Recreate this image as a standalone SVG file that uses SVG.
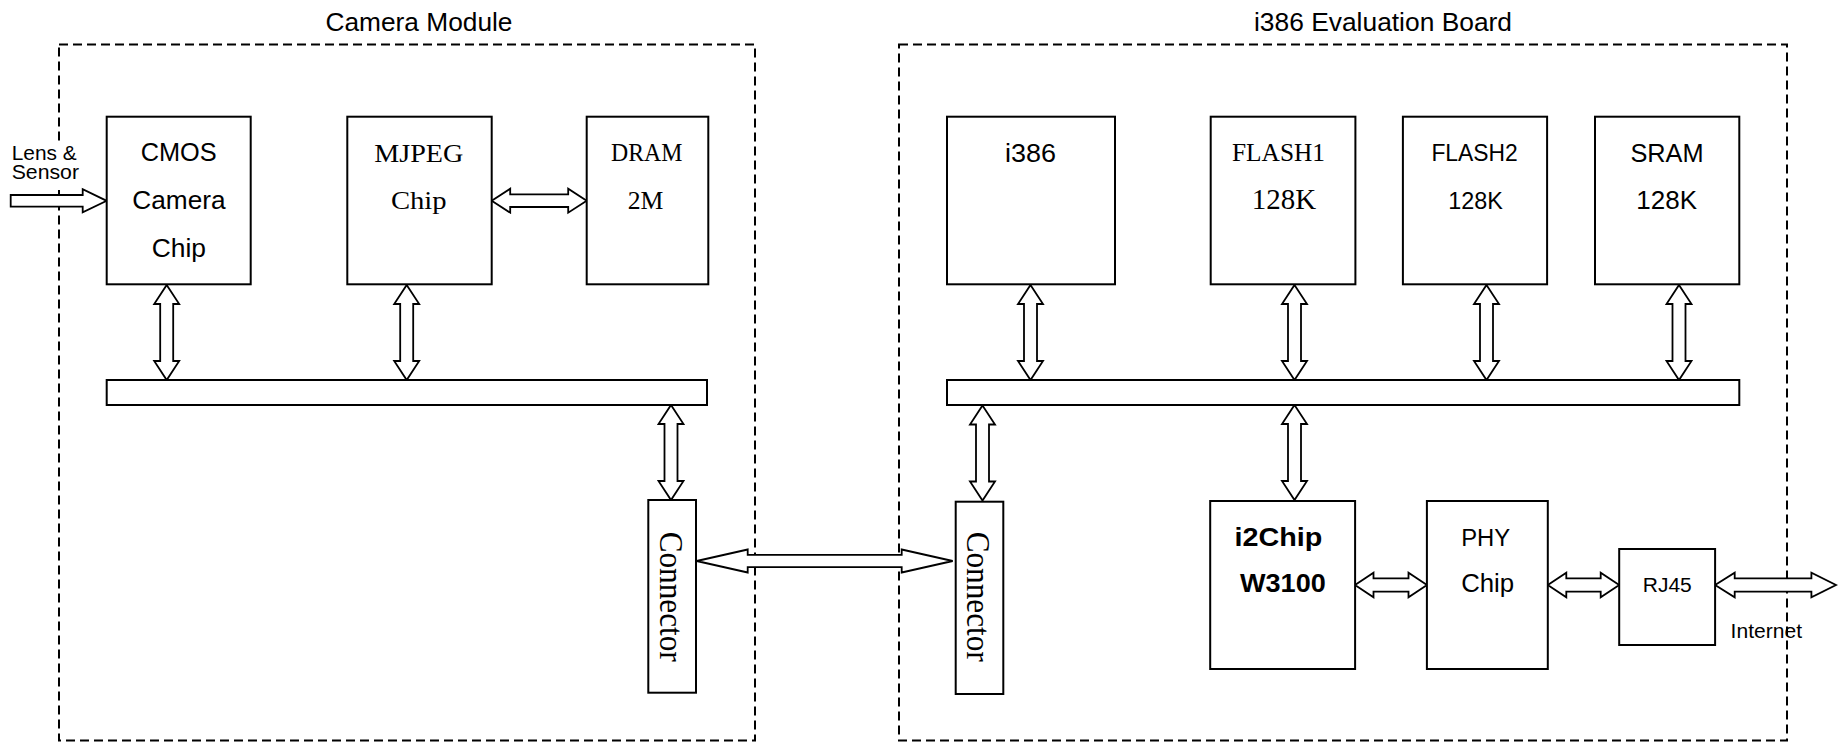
<svg xmlns="http://www.w3.org/2000/svg" xmlns:xlink="http://www.w3.org/1999/xlink" width="1842" height="743" viewBox="0 0 1842 743">
  <style>
    .frame { fill: none; stroke: #000; stroke-width: 2; stroke-dasharray: 9 5; }
    .box { fill: #fff; stroke: #000; stroke-width: 2; }
    .arrow { fill: #fff; stroke: #000; stroke-width: 1.8; stroke-linejoin: miter; }
    .sans { font-family: "Liberation Sans", Arial, sans-serif; fill: #000; }
    .serif { font-family: "Liberation Serif", "Times New Roman", serif; fill: #000; }
    .bold { font-weight: bold; }
    .mid { text-anchor: middle; }
  </style>
  <defs>
    <!-- standard vertical double-headed bus arrow, 95 px long -->
    <path id="vArrow95" d="M0,0 L12.5,19 L6.5,19 L6.5,76 L12.5,76 L0,95 L-12.5,76 L-6.5,76 L-6.5,19 L-12.5,19 Z"/>
  </defs>
  <rect width="1842" height="743" fill="#fff"/>

  <!-- module outlines -->
  <g id="camera-module">
    <rect class="frame" x="59" y="44.5" width="696" height="696"/>
    <text class="sans mid" x="419" y="31" font-size="26" textLength="187" lengthAdjust="spacingAndGlyphs">Camera Module</text>
  </g>
  <g id="eval-board">
    <rect class="frame" x="899" y="44.5" width="888" height="696"/>
    <text class="sans mid" x="1383" y="31" font-size="26" textLength="258" lengthAdjust="spacingAndGlyphs">i386 Evaluation Board</text>
  </g>

  <!-- input label -->
  <g id="lens-sensor">
    <rect x="10" y="141" width="72" height="49" fill="#fff"/>
    <text class="sans" x="11.7" y="159.5" font-size="21" textLength="65" lengthAdjust="spacingAndGlyphs">Lens &amp;</text>
    <text class="sans" x="11.7" y="179" font-size="21" textLength="67.3" lengthAdjust="spacingAndGlyphs">Sensor</text>
  </g>

  <!-- connectors -->
  <g id="connectors">
    <!-- lens input -->
    <path class="arrow" d="M10.7,195 L82.7,195 L82.7,189.3 L106.7,200.85 L82.7,212.3 L82.7,206.7 L10.7,206.7 Z"/>
    <!-- MJPEG <-> DRAM -->
    <path class="arrow" d="M491.7,200.7 L510.2,188.7 L510.2,194.4 L568.2,194.4 L568.2,188.7 L586.7,200.7 L568.2,212.7 L568.2,207 L510.2,207 L510.2,212.7 Z"/>
    <!-- camera bus -->
    <use class="arrow" xlink:href="#vArrow95" x="166.7" y="285"/>
    <use class="arrow" xlink:href="#vArrow95" x="406.7" y="285"/>
    <use class="arrow" xlink:href="#vArrow95" x="671" y="405"/>
    <!-- board bus -->
    <use class="arrow" xlink:href="#vArrow95" x="1030.5" y="285"/>
    <use class="arrow" xlink:href="#vArrow95" x="1294.5" y="285"/>
    <use class="arrow" xlink:href="#vArrow95" x="1486.5" y="285"/>
    <use class="arrow" xlink:href="#vArrow95" x="1679" y="285"/>
    <use class="arrow" xlink:href="#vArrow95" x="982.5" y="405.5"/>
    <use class="arrow" xlink:href="#vArrow95" x="1294.5" y="405"/>
    <!-- connector <-> connector -->
    <path class="arrow" d="M696.7,561 L747.7,549.5 L747.7,554.8 L901.7,554.8 L901.7,549.5 L952.7,561 L901.7,572.5 L901.7,567.2 L747.7,567.2 L747.7,572.5 Z"/>
    <!-- i2Chip <-> PHY -->
    <path class="arrow" d="M1355,585 L1373.5,572.7 L1373.5,578.3 L1408.5,578.3 L1408.5,572.7 L1427,585 L1408.5,597.3 L1408.5,591.7 L1373.5,591.7 L1373.5,597.3 Z"/>
    <!-- PHY <-> RJ45 -->
    <path class="arrow" d="M1547.8,585 L1566.3,572.7 L1566.3,578.3 L1600.7,578.3 L1600.7,572.7 L1619.2,585 L1600.7,597.3 L1600.7,591.7 L1566.3,591.7 L1566.3,597.3 Z"/>
    <!-- RJ45 <-> Internet -->
    <path class="arrow" d="M1715.1,585 L1734.7,572.7 L1734.7,578.3 L1811.4,578.3 L1811.4,572.7 L1836,585 L1811.4,597.3 L1811.4,591.7 L1734.7,591.7 L1734.7,597.3 Z"/>
  </g>

  <!-- camera module blocks -->
  <g id="cmos">
    <rect class="box" x="106.7" y="116.7" width="144" height="167.6"/>
    <text class="sans mid" x="178.7" y="161" font-size="25.5" textLength="76" lengthAdjust="spacingAndGlyphs">CMOS</text>
    <text class="sans mid" x="179" y="209" font-size="25.5" textLength="93.3" lengthAdjust="spacingAndGlyphs">Camera</text>
    <text class="sans mid" x="178.8" y="256.7" font-size="25.5" textLength="54.3" lengthAdjust="spacingAndGlyphs">Chip</text>
  </g>
  <g id="mjpeg">
    <rect class="box" x="347.3" y="116.7" width="144.4" height="167.6"/>
    <text class="serif mid" x="418.8" y="161.7" font-size="25.5" textLength="89" lengthAdjust="spacingAndGlyphs">MJPEG</text>
    <text class="serif mid" x="418.8" y="209" font-size="25.5" textLength="55.7" lengthAdjust="spacingAndGlyphs">Chip</text>
  </g>
  <g id="dram">
    <rect class="box" x="586.7" y="116.7" width="121.6" height="167.6"/>
    <text class="serif mid" x="646.7" y="160.7" font-size="24.5" textLength="71.3" lengthAdjust="spacingAndGlyphs">DRAM</text>
    <text class="serif mid" x="645.5" y="209" font-size="24.5" textLength="35.7" lengthAdjust="spacingAndGlyphs">2M</text>
  </g>
  <g id="camera-bus">
    <rect class="box" x="106.7" y="380" width="600.3" height="25"/>
  </g>
  <g id="camera-connector">
    <rect class="box" x="648.3" y="500" width="47.7" height="192.7"/>
    <text class="serif mid" transform="translate(659.5,596.7) rotate(90)" font-size="34" textLength="130" lengthAdjust="spacingAndGlyphs">Connector</text>
  </g>

  <!-- evaluation board blocks -->
  <g id="i386">
    <rect class="box" x="947" y="116.7" width="168" height="167.6"/>
    <text class="sans mid" x="1030.5" y="161.5" font-size="25" textLength="51" lengthAdjust="spacingAndGlyphs">i386</text>
  </g>
  <g id="flash1">
    <rect class="box" x="1210.7" y="116.7" width="144.7" height="167.6"/>
    <text class="serif mid" x="1278.5" y="160.7" font-size="25.5" textLength="93" lengthAdjust="spacingAndGlyphs">FLASH1</text>
    <text class="serif mid" x="1283.9" y="209.3" font-size="29" textLength="64.3" lengthAdjust="spacingAndGlyphs">128K</text>
  </g>
  <g id="flash2">
    <rect class="box" x="1402.9" y="116.7" width="144.2" height="167.6"/>
    <text class="sans mid" x="1474.6" y="160.7" font-size="24" textLength="86.4" lengthAdjust="spacingAndGlyphs">FLASH2</text>
    <text class="sans mid" x="1475.5" y="208.7" font-size="23.5" textLength="54.6" lengthAdjust="spacingAndGlyphs">128K</text>
  </g>
  <g id="sram">
    <rect class="box" x="1595" y="116.7" width="144.3" height="167.6"/>
    <text class="sans mid" x="1667" y="161.5" font-size="25.5" textLength="73.2" lengthAdjust="spacingAndGlyphs">SRAM</text>
    <text class="sans mid" x="1666.7" y="209.3" font-size="26" textLength="60.7" lengthAdjust="spacingAndGlyphs">128K</text>
  </g>
  <g id="board-bus">
    <rect class="box" x="947" y="380" width="792.3" height="25"/>
  </g>
  <g id="board-connector">
    <rect class="box" x="955.7" y="501.7" width="47.6" height="192.3"/>
    <text class="serif mid" transform="translate(966.7,596.7) rotate(90)" font-size="34" textLength="130" lengthAdjust="spacingAndGlyphs">Connector</text>
  </g>
  <g id="i2chip">
    <rect class="box" x="1210.2" y="501" width="144.9" height="168"/>
    <text class="sans bold mid" x="1278.5" y="545.5" font-size="26" textLength="87.8" lengthAdjust="spacingAndGlyphs">i2Chip</text>
    <text class="sans bold mid" x="1282.9" y="592" font-size="26" textLength="85.7" lengthAdjust="spacingAndGlyphs">W3100</text>
  </g>
  <g id="phy">
    <rect class="box" x="1426.9" y="501" width="120.9" height="168"/>
    <text class="sans mid" x="1485.7" y="545.5" font-size="24.5" textLength="49" lengthAdjust="spacingAndGlyphs">PHY</text>
    <text class="sans mid" x="1487.7" y="592.3" font-size="25.5" textLength="53" lengthAdjust="spacingAndGlyphs">Chip</text>
  </g>
  <g id="rj45">
    <rect class="box" x="1619.2" y="549" width="95.9" height="96"/>
    <text class="sans mid" x="1667.3" y="591.7" font-size="20.5" textLength="49" lengthAdjust="spacingAndGlyphs">RJ45</text>
  </g>
  <g id="internet">
    <text class="sans mid" x="1766.3" y="638.3" font-size="21" textLength="71.4" lengthAdjust="spacingAndGlyphs">Internet</text>
  </g>
</svg>
